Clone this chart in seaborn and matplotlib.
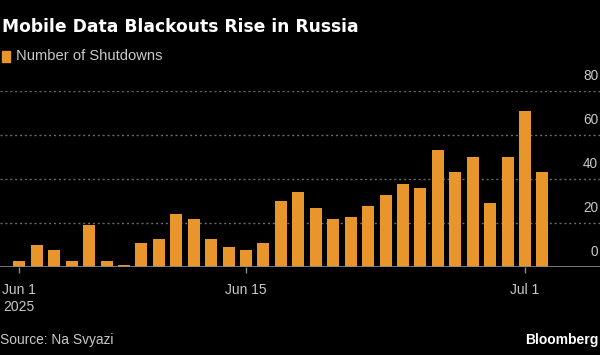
import numpy as np
import pandas as pd
import matplotlib
matplotlib.use('Agg')
import matplotlib.pyplot as plt
import matplotlib.transforms as mtransforms
import seaborn as sns

# daily counts
days = pd.date_range("2025-06-01", periods=31).strftime("%Y-%m-%d").tolist()
shutdowns = [3, 10, 8, 3, 19, 3, 1, 11, 13, 24, 22, 13, 9, 8, 11, 30,
             34, 27, 22, 23, 28, 33, 38, 36, 53, 43, 50, 29, 50, 71, 43]
y_ticks = [0, 20, 40, 60, 80]
x_tick_labels = ["Jun 1\n2025", "Jun 15", "Jul 1"]
x_tick_days = ["2025-06-01", "2025-06-14", "2025-06-30"]

BG = "#000000"
BAR = "#E8952C"
GRID = "#6a6a6a"
TXT = "#c9c9c9"

sns.set_style("dark", {"axes.facecolor": BG, "figure.facecolor": BG})
plt.rcParams['font.family'] = ['Liberation Sans', 'DejaVu Sans']

fig = plt.figure(figsize=(6, 3.55), dpi=100)
ax = fig.add_axes([0, 0.247, 1, 0.497])

df = pd.DataFrame({"day": days, "count": shutdowns})
sns.barplot(data=df, x="day", y="count", color=BAR, width=0.69,
            saturation=1, linewidth=0, edgecolor=BAR, ax=ax)

ax.set_xlim(-1.11, 33.3)
ax.set_ylim(0, 80)
ax.set_xlabel("")
ax.set_ylabel("")
for s in ax.spines.values():
    s.set_visible(False)

# dotted gridlines, labels sit above them at the right edge
for v in y_ticks[1:]:
    ax.axhline(v, color=GRID, lw=1, ls=(0, (1.5, 2)), zorder=0)
ax.axhline(0, color="#8a8a8a", lw=1.2, zorder=3)
ax.set_yticks([])
off = mtransforms.offset_copy(ax.transData, fig=fig, x=0, y=8, units='dots')
blend = mtransforms.blended_transform_factory(ax.transAxes, off)
for v in y_ticks:
    ax.text(0.997, v, str(v), transform=blend, color=TXT, fontsize=9.8,
            ha='right', va='bottom', clip_on=False)

pos = [days.index(d) for d in x_tick_days]
ax.set_xticks(pos)
ax.set_xticklabels(x_tick_labels, color=TXT, fontsize=10, linespacing=1.3)
for lab in ax.get_xticklabels():
    lab.set_verticalalignment('top')
ax.tick_params(axis='x', colors="#8a8a8a", length=4, width=1, pad=7,
               labelcolor=TXT, bottom=True)

fig.text(0.004, 0.925, "Mobile Data Blackouts Rise in Russia", color="white",
         fontsize=12.3, fontweight='bold', va='center', ha='left',
         family='DejaVu Sans')
fig.patches.append(plt.Rectangle((0.004, 0.825), 0.012, 0.032,
                                 transform=fig.transFigure, color=BAR))
fig.text(0.027, 0.842, "Number of Shutdowns", color=TXT, fontsize=10.6,
         va='center', ha='left')
fig.text(0.0, 0.042, "Source: Na Svyazi", color=TXT, fontsize=9.9,
         va='center', ha='left')
fig.text(0.997, 0.042, "Bloomberg", color="white", fontsize=10,
         fontweight='bold', va='center', ha='right')

fig.savefig("out.png", dpi=100, facecolor=BG)
